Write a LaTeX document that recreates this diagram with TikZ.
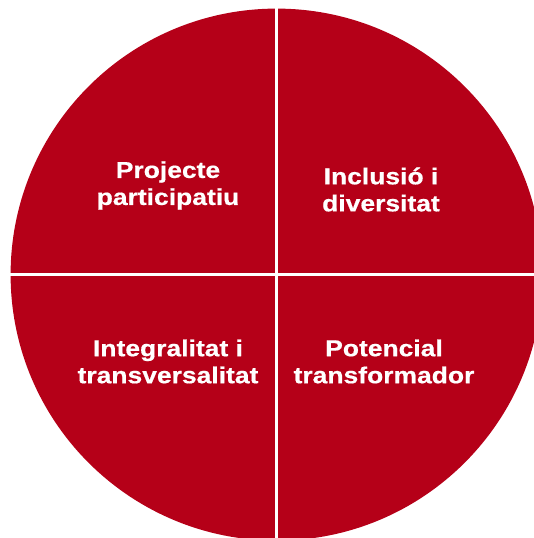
\documentclass[tikz,border=0pt]{standalone}
\usepackage{fontspec}
\newfontfamily\labfont[FakeStretch=1.15,FakeBold=0.6]{Liberation Sans}
\definecolor{pie}{RGB}{181,0,24}
\begin{document}
\begin{tikzpicture}[x=1pt,y=-1pt,
  quad/.style={align=center,text=white,inner sep=0pt,font=\labfont\bfseries\fontsize{23}{27}\selectfont},
  gap/.style={draw=white,line width=2.7pt}]
\useasboundingbox (0,0) rectangle (534,538);
\coordinate (c) at (276.6,274.6);
\fill[pie] (c) circle[radius=266pt];
\coordinate (vt) at (276.6,0);
\coordinate (vb) at (276.6,538);
\coordinate (hl) at (0,274.6);
\coordinate (hr) at (534,274.6);
\draw[gap] (vt) -- (vb);
\draw[gap] (hl) -- (hr);
\node[quad] (tl) at (168,185.5) {Projecte\\participatiu};
\node[quad] (tr) at (381,189.5) {Inclusió i\\diversitat};
\node[quad] (bl) at (168,361.5) {Integralitat i\\transversalitat};
\node[quad] (br) at (384,361.5) {Potencial\\transformador};
\end{tikzpicture}
\end{document}
